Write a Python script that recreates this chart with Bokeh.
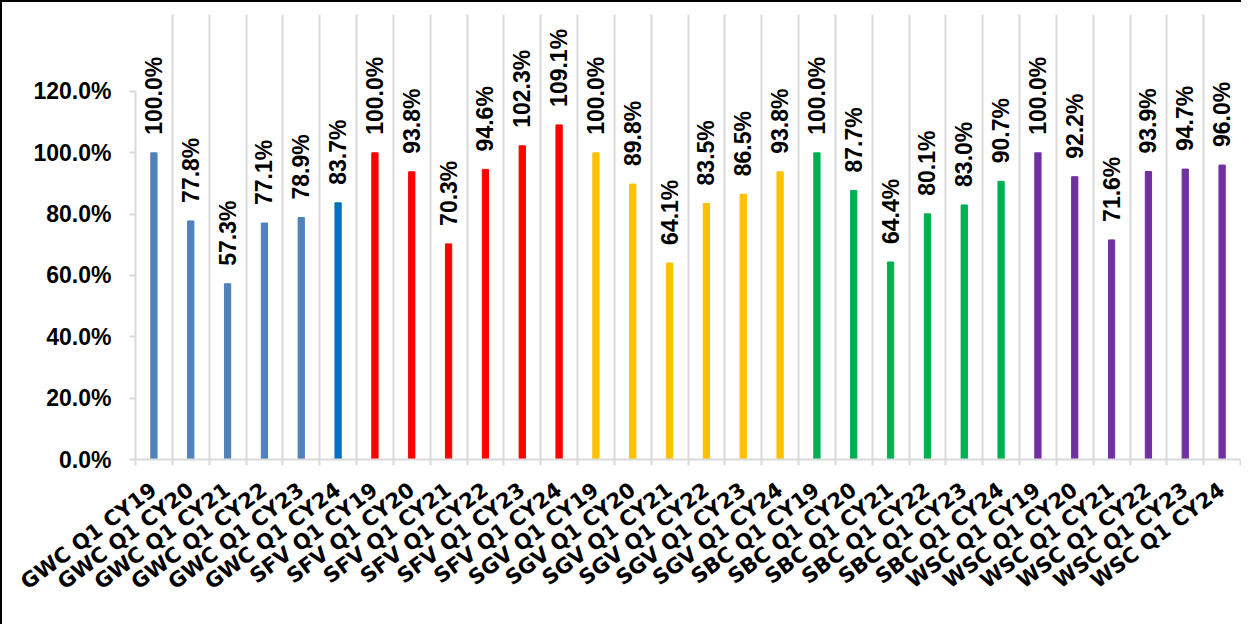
import math
from bokeh.plotting import figure
from bokeh.models import ColumnDataSource, Range1d, FixedTicker, NumeralTickFormatter
from bokeh.core.properties import value
from bokeh.embed import file_html
from bokeh.resources import INLINE

regions = ["GWC", "SFV", "SGV", "SBC", "WSC"]
years = ["CY19", "CY20", "CY21", "CY22", "CY23", "CY24"]

gwc = [100.0, 77.8, 57.3, 77.1, 78.9, 83.7]
sfv = [100.0, 93.8, 70.3, 94.6, 102.3, 109.1]
sgv = [100.0, 89.8, 64.1, 83.5, 86.5, 93.8]
sbc = [100.0, 87.7, 64.4, 80.1, 83.0, 90.7]
wsc = [100.0, 92.2, 71.6, 93.9, 94.7, 96.0]

region_colors = ["#4F81BD", "#FF0000", "#FFC000", "#00B050", "#7030A0"]
gwc_latest_color = "#0070C0"

y_ticks = [0.0, 0.2, 0.4, 0.6, 0.8, 1.0, 1.2]

series = [gwc, sfv, sgv, sbc, wsc]
categories = [f"{r} Q1 {y}" for r in regions for y in years]
values = [v for s in series for v in s]
colors = []
for ri, r in enumerate(regions):
    for yi, y in enumerate(years):
        if r == "GWC" and yi == len(years) - 1:
            colors.append(gwc_latest_color)
        else:
            colors.append(region_colors[ri])

n = len(categories)
idx = list(range(n))
bounds = [i - 0.5 for i in range(n + 1)]

src = ColumnDataSource(dict(
    x=idx,
    top=[v / 100 for v in values],
    color=colors,
    label=[f"{v:.1f}%" for v in values],
))

FONT = "Liberation Sans"
XFONT = "DejaVu Sans"
GRID = "#D9D9D9"

p = figure(width=1241, height=624, output_backend="svg", toolbar_location=None,
           x_range=Range1d(-0.5, n - 0.5), y_range=Range1d(0, 1.451),
           min_border_left=133, min_border_right=3, min_border_top=12,
           min_border_bottom=167)
p.outline_line_color = None
p.background_fill_color = "white"
p.border_fill_color = "white"
p.styles = {"border-left": "2px solid black", "border-top": "2px solid black"}

p.vbar(x="x", top="top", width=0.17, color="color", source=src)
p.text(x="x", y="top", text="label", angle=math.pi / 2, text_align="left",
       text_baseline="middle", y_offset=-18, text_font=value(FONT),
       text_font_style="bold", text_font_size="23px", text_color="black",
       source=src)

# grid: vertical lines at category boundaries up to 120%
p.ygrid.grid_line_color = None
p.xgrid.ticker = FixedTicker(ticks=bounds)
p.xgrid.bounds = (0, 1.2)
p.xgrid.grid_line_color = GRID
p.xgrid.grid_line_width = 2

# x axis
xa = p.xaxis[0]
xa.ticker = FixedTicker(ticks=idx, minor_ticks=bounds)
xa.major_label_overrides = {i: c for i, c in zip(idx, categories)}
xa.major_tick_line_color = None
xa.minor_tick_in = 0
xa.minor_tick_out = 6
xa.minor_tick_line_color = GRID
xa.minor_tick_line_width = 2
xa.axis_line_color = GRID
xa.axis_line_width = 2
xa.major_label_orientation = 0.64
xa.major_label_standoff = 22
xa.major_label_text_font = XFONT
xa.major_label_text_font_style = "bold"
xa.major_label_text_font_size = "21px"
xa.major_label_text_color = "black"

# y axis
ya = p.yaxis[0]
ya.ticker = FixedTicker(ticks=y_ticks)
ya.formatter = NumeralTickFormatter(format="0.0%")
ya.bounds = (0, 1.2)
ya.minor_tick_line_color = None
ya.major_tick_in = 0
ya.major_tick_out = 6
ya.major_tick_line_color = GRID
ya.major_tick_line_width = 2
ya.axis_line_color = GRID
ya.axis_line_width = 2
ya.major_label_standoff = 18
ya.major_label_text_font = FONT
ya.major_label_text_font_style = "bold"
ya.major_label_text_font_size = "23px"
ya.major_label_text_color = "black"

open("out.html", "w").write(file_html(p, INLINE))
